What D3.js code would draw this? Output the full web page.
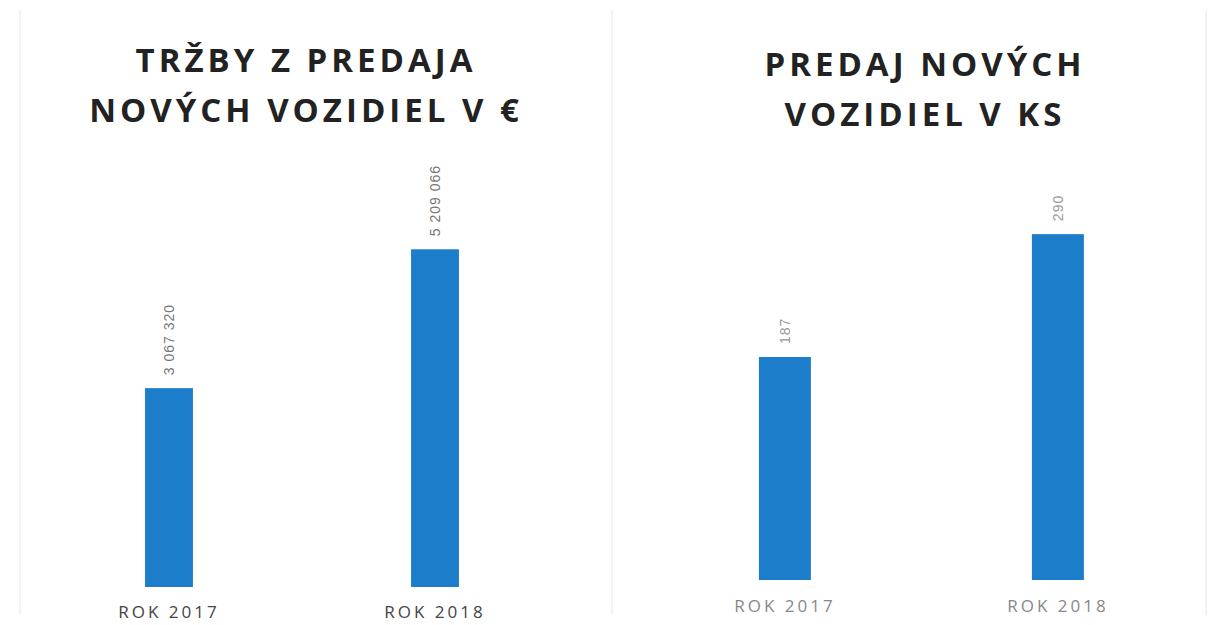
<!DOCTYPE html>
<html>
<head>
<meta charset="utf-8">
<script src="https://cdn.jsdelivr.net/npm/d3@7"></script>
<style>
  body { margin: 0; background: #fff; }
  svg { display: block; }
</style>
</head>
<body>
<svg id="chart" width="1218" height="625"></svg>
<script>
// Data
const years = ['ROK 2017', 'ROK 2018'];
const revenue = [3067320, 5209066];   // tržby v €
const units = [187, 290];             // predaj v ks
const revenueLabels = ['3 067 320', '5 209 066'];
const unitLabels = ['187', '290'];
const titleRevenue = ['TRŽBY Z PREDAJA', 'NOVÝCH VOZIDIEL V €'];
const titleUnits = ['PREDAJ NOVÝCH', 'VOZIDIEL V KS'];

const svg = d3.select('#chart');
const barColor = '#1c7dcb';

// faint panel borders (scanned look)
[20, 612, 1206].forEach(x => {
    svg.append('line')
        .attr('x1', x).attr('x2', x)
        .attr('y1', 10).attr('y2', 615)
        .attr('stroke', '#f3f3f3')
        .attr('stroke-width', 2);
});

function drawPanel(opts) {
    const data = years.map((y, i) => ({ year: y, value: opts.values[i], label: opts.labels[i] }));

    const x = d3.scaleBand()
        .domain(years)
        .range(opts.xRange)
        .paddingInner(opts.padInner)
        .paddingOuter(opts.padInner / 2);

    const y = d3.scaleLinear()
        .domain([0, opts.max])
        .range(opts.yRange);

    const g = svg.append('g');

    // title
    const title = g.append('text')
        .attr('x', opts.titleX)
        .attr('text-anchor', 'middle')
        .style('font-family', '"Open Sans", sans-serif')
        .style('font-weight', 'bold')
        .style('font-size', '33px')
        .style('letter-spacing', '4px')
        .style('fill', '#222');
    opts.title.forEach((t, i) => {
        title.append('tspan')
            .attr('x', opts.titleX)
            .attr('y', opts.titleY + i * 50)
            .text(t);
    });

    // bars
    g.selectAll('rect.bar')
        .data(data)
        .enter()
        .append('rect')
        .attr('class', 'bar')
        .attr('x', d => x(d.year))
        .attr('y', d => y(d.value))
        .attr('width', x.bandwidth())
        .attr('height', d => y(0) - y(d.value))
        .attr('fill', barColor);

    // rotated value labels
    g.selectAll('text.val')
        .data(data)
        .enter()
        .append('text')
        .attr('class', 'val')
        .attr('transform', d => `translate(${x(d.year) + x.bandwidth() / 2 + 5}, ${y(d.value) - 13}) rotate(-90)`)
        .attr('text-anchor', 'start')
        .style('font-family', '"Liberation Sans", sans-serif')
        .style('font-size', '14px')
        .style('letter-spacing', '1px')
        .style('fill', opts.valColor)
        .text(d => d.label);

    // x axis labels
    const axis = g.append('g')
        .attr('transform', `translate(0, ${opts.yRange[0]})`)
        .call(d3.axisBottom(x).tickSize(0).tickPadding(opts.tickPad));
    axis.select('.domain').remove();
    axis.selectAll('text')
        .style('font-family', '"Open Sans", sans-serif')
        .style('font-size', '17px')
        .style('letter-spacing', '3px')
        .style('fill', opts.axisColor);
}

drawPanel({
    values: revenue,
    labels: revenueLabels,
    title: titleRevenue,
    titleX: 306,
    titleY: 72,
    xRange: [36, 568],
    padInner: 0.82,
    max: 6000000,
    yRange: [587, 198],
    valColor: '#777',
    axisColor: '#444',
    tickPad: 19
});

drawPanel({
    values: units,
    labels: unitLabels,
    title: titleUnits,
    titleX: 925,
    titleY: 76,
    xRange: [648.4, 1194.4],
    padInner: 0.8095,
    max: 350,
    yRange: [580, 162.6],
    valColor: '#999',
    axisColor: '#888',
    tickPad: 20
});
</script>
</body>
</html>
